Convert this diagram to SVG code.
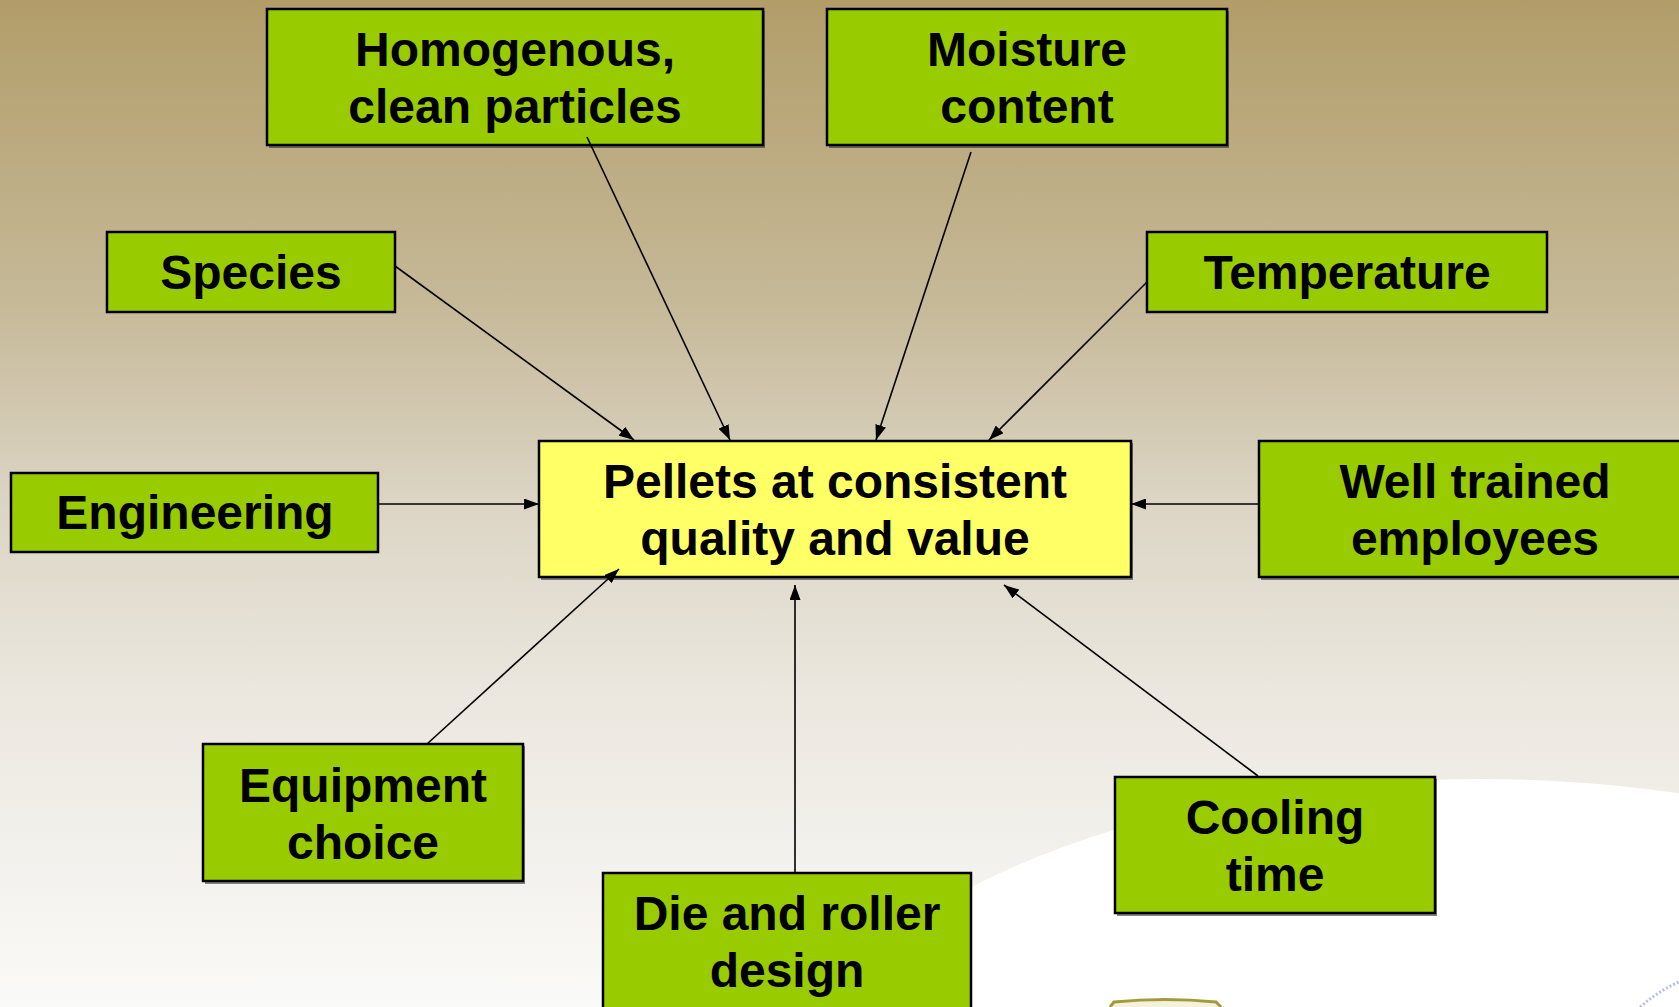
<svg xmlns="http://www.w3.org/2000/svg" width="1679" height="1007" viewBox="0 0 1679 1007">
<defs>
<linearGradient id="bg" x1="0" y1="0" x2="0" y2="1">
<stop offset="0" stop-color="#B29D69"/>
<stop offset="0.3" stop-color="#C6B998"/>
<stop offset="0.5" stop-color="#DCD5C5"/>
<stop offset="0.7" stop-color="#ECE8E0"/>
<stop offset="1" stop-color="#FAFAF8"/>
</linearGradient>
<marker id="ah" viewBox="0 0 15 11" refX="15" refY="5.5" markerWidth="15" markerHeight="11" markerUnits="userSpaceOnUse" orient="auto">
<path d="M0,0 L15,5.5 L0,11 Z" fill="#000"/>
</marker>
<style>
.g{fill:#99CC00;stroke:#000;stroke-width:2.5}
.y{fill:#FFFF66;stroke:#000;stroke-width:2.5}
.sh{fill:#333;opacity:0.6}
.t{font-family:"Liberation Sans",Arial,sans-serif;font-weight:bold;font-size:48px;fill:#000;text-anchor:middle}
.c{stroke:#000;stroke-width:1.6;fill:none;marker-end:url(#ah)}
</style>
</defs>
<rect width="1679" height="1007" fill="url(#bg)"/>
<ellipse cx="1480" cy="1125" rx="700" ry="346" fill="#FFFFFF"/>
<path d="M1110,1007 L1114,1002 Q1165,997 1216,1002 L1221,1007" stroke="#A49A3A" stroke-width="3" fill="#F4F1DC"/>
<path d="M1640,1007 Q1660,990 1679,982" stroke="#B8C0DC" stroke-width="3" stroke-dasharray="2 2" fill="none"/>

<g id="center">
<rect class="sh" x="541" y="443" width="592" height="137"/>
<rect class="y" x="539" y="441" width="592" height="136"/>
<text class="t" x="835" y="498">Pellets at consistent</text>
<text class="t" x="835" y="555">quality and value</text>
</g>

<g id="homogenous">
<rect class="sh" x="269" y="11" width="496" height="137"/>
<rect class="g" x="267" y="9" width="496" height="136"/>
<text class="t" x="515" y="66">Homogenous,</text>
<text class="t" x="515" y="123">clean particles</text>
</g>

<g id="moisture">
<rect class="sh" x="829" y="11" width="400" height="137"/>
<rect class="g" x="827" y="9" width="400" height="136"/>
<text class="t" x="1027" y="66">Moisture</text>
<text class="t" x="1027" y="123">content</text>
</g>

<g id="species">
<rect class="g" x="107" y="232" width="288" height="80"/>
<text class="t" x="251" y="289">Species</text>
</g>

<g id="temperature">
<rect class="g" x="1147" y="232" width="400" height="80"/>
<text class="t" x="1347" y="289">Temperature</text>
</g>

<g id="engineering">
<rect class="g" x="11" y="473" width="367" height="79"/>
<text class="t" x="195" y="529">Engineering</text>
</g>

<g id="well-trained">
<rect class="sh" x="1261" y="443" width="432" height="137"/>
<rect class="g" x="1259" y="441" width="432" height="136"/>
<text class="t" x="1475" y="498">Well trained</text>
<text class="t" x="1475" y="555">employees</text>
</g>

<g id="equipment">
<rect class="sh" x="205" y="746" width="320" height="138"/>
<rect class="g" x="203" y="744" width="320" height="137"/>
<text class="t" x="363" y="802">Equipment</text>
<text class="t" x="363" y="859">choice</text>
</g>

<g id="die">
<rect class="g" x="603" y="873" width="368" height="140"/>
<text class="t" x="787" y="930">Die and roller</text>
<text class="t" x="787" y="987">design</text>
</g>

<g id="cooling">
<rect class="sh" x="1117" y="779" width="320" height="137"/>
<rect class="g" x="1115" y="777" width="320" height="136"/>
<text class="t" x="1275" y="834">Cooling</text>
<text class="t" x="1275" y="891">time</text>
</g>

<g id="connectors">
<line class="c" x1="395" y1="266" x2="634" y2="440"/>
<line class="c" x1="587" y1="137" x2="730" y2="440"/>
<line class="c" x1="971" y1="152" x2="876" y2="440"/>
<line class="c" x1="1147" y1="282" x2="989" y2="440"/>
<line class="c" x1="378" y1="504" x2="539" y2="504"/>
<line class="c" x1="1259" y1="504" x2="1131" y2="504"/>
<line class="c" x1="427" y1="744" x2="619" y2="569"/>
<line class="c" x1="795" y1="873" x2="795" y2="585"/>
<line class="c" x1="1258" y1="776" x2="1004" y2="585"/>
</g>
</svg>
